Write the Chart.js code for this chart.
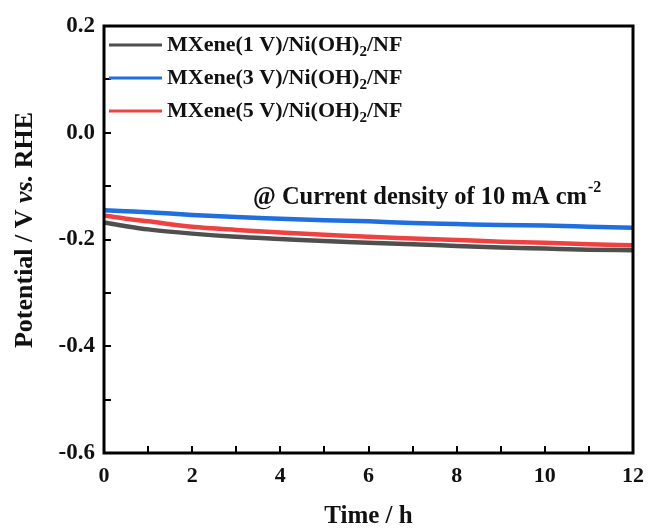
<!DOCTYPE html>
<html>
<head>
<meta charset="utf-8">
<script src="https://cdn.jsdelivr.net/npm/chart.js@4/dist/chart.umd.min.js"></script>
<style>
html,body{margin:0;padding:0;background:#fff;}
#wrap{width:649px;height:530px;}
</style>
</head>
<body>
<div id="wrap"><canvas id="c" width="649" height="530"></canvas></div>
<script>
// ---- data ----
const timeH = [0, 0.5, 1, 2, 3, 4, 5, 6, 7, 8, 9, 10, 11, 12];
const mx1V = [-0.168, -0.175, -0.181, -0.189, -0.195, -0.199, -0.203, -0.206, -0.209, -0.212, -0.215, -0.217, -0.219, -0.220];
const mx3V = [-0.145, -0.147, -0.149, -0.154, -0.158, -0.161, -0.164, -0.166, -0.169, -0.171, -0.173, -0.174, -0.176, -0.178];
const mx5V = [-0.155, -0.161, -0.166, -0.176, -0.182, -0.187, -0.191, -0.195, -0.198, -0.201, -0.204, -0.206, -0.209, -0.211];
const seriesNames = ['MXene(1 V)/Ni(OH)', 'MXene(3 V)/Ni(OH)', 'MXene(5 V)/Ni(OH)'];
const seriesColors = ['#4f4f4f', '#1f6fde', '#f04141'];
const xTicks = [0, 2, 4, 6, 8, 10, 12];
const yTicks = [0.2, 0.0, -0.2, -0.4, -0.6];

const FONT = '"Liberation Serif","Times New Roman",serif';

function pts(ys){ return timeH.map((t,i)=>({x:t,y:ys[i]})); }

const decor = {
  id: 'decor',
  afterDraw(chart){
    const ctx = chart.ctx, a = chart.chartArea;
    const xs = chart.scales.x, ys = chart.scales.y;
    ctx.save();
    // inward ticks
    ctx.strokeStyle = '#000';
    ctx.lineWidth = 2;
    ctx.beginPath();
    for (let t = 1; t < 12; t++) {
      const px = Math.round(xs.getPixelForValue(t));
      ctx.moveTo(px, a.bottom); ctx.lineTo(px, a.bottom - 7);
    }
    for (let k = -5; k <= 1; k++) {
      const py = Math.round(ys.getPixelForValue(k / 10));
      ctx.moveTo(a.left, py); ctx.lineTo(a.left + 7, py);
    }
    ctx.stroke();
    // frame
    ctx.lineWidth = 3;
    ctx.strokeRect(a.left, a.top, a.right - a.left, a.bottom - a.top);

    // legend
    const lx0 = a.left + 5, lx1 = a.left + 58, tx = a.left + 63;
    const ly = [45, 78, 111];
    ctx.textBaseline = 'middle';
    ctx.textAlign = 'left';
    for (let i = 0; i < 3; i++) {
      ctx.strokeStyle = seriesColors[i];
      ctx.lineWidth = 3;
      ctx.beginPath(); ctx.moveTo(lx0, ly[i]); ctx.lineTo(lx1, ly[i]); ctx.stroke();
      ctx.fillStyle = '#111';
      ctx.font = 'bold 22px ' + FONT;
      let x = tx;
      ctx.fillText(seriesNames[i], x, ly[i]);
      x += ctx.measureText(seriesNames[i]).width;
      ctx.font = 'bold 15px ' + FONT;
      ctx.fillText('2', x, ly[i] + 7);
      x += ctx.measureText('2').width;
      ctx.font = 'bold 22px ' + FONT;
      ctx.fillText('/NF', x, ly[i]);
    }

    // annotation
    ctx.font = 'bold 24.5px ' + FONT;
    ctx.fillStyle = '#111';
    const ann = '@ Current density of 10 mA cm';
    ctx.fillText(ann, 253, 198);
    const aw = ctx.measureText(ann).width;
    ctx.font = 'bold 16px ' + FONT;
    ctx.fillText('-2', 253 + aw + 1, 188);

    // x title
    ctx.font = 'bold 25px ' + FONT;
    ctx.textAlign = 'center';
    ctx.fillText('Time / h', (a.left + a.right) / 2, 517);

    // y title with italic "vs."
    ctx.translate(25, 230);
    ctx.rotate(-Math.PI / 2);
    const parts = [
      ['Potential / V ', 'bold 26px ' + FONT],
      ['vs.', 'italic bold 26px ' + FONT],
      [' RHE', 'bold 26px ' + FONT]
    ];
    let total = 0;
    for (const p of parts) { ctx.font = p[1]; total += ctx.measureText(p[0]).width; }
    let x = -total / 2;
    ctx.textAlign = 'left';
    for (const p of parts) { ctx.font = p[1]; ctx.fillText(p[0], x, 0); x += ctx.measureText(p[0]).width; }
    ctx.restore();
  }
};

new Chart(document.getElementById('c'), {
  type: 'line',
  data: {
    datasets: [
      { label: seriesNames[0], data: pts(mx1V), borderColor: seriesColors[0], borderWidth: 4.5, pointRadius: 0, cubicInterpolationMode: 'monotone', fill: false },
      { label: seriesNames[1], data: pts(mx3V), borderColor: seriesColors[1], borderWidth: 4.5, pointRadius: 0, cubicInterpolationMode: 'monotone', fill: false },
      { label: seriesNames[2], data: pts(mx5V), borderColor: seriesColors[2], borderWidth: 4.5, pointRadius: 0, cubicInterpolationMode: 'monotone', fill: false }
    ]
  },
  options: {
    responsive: false,
    animation: false,
    devicePixelRatio: 1,
    layout: { padding: { top: 26, right: 16, left: 0, bottom: 0 } },
    plugins: { legend: { display: false }, tooltip: { enabled: false } },
    scales: {
      x: {
        type: 'linear', min: 0, max: 12,
        afterFit(s){ s.height = 77; s.paddingLeft = 0; s.paddingRight = 0; },
        afterBuildTicks(s){ s.ticks = xTicks.map(v => ({ value: v })); },
        ticks: { color: '#111', font: { family: FONT, size: 22, weight: 'bold' }, padding: 10, maxRotation: 0, autoSkip: false },
        grid: { display: false, drawTicks: false },
        border: { display: false }
      },
      y: {
        type: 'linear', min: -0.6, max: 0.2,
        afterFit(s){ s.width = 104; s.paddingTop = 0; s.paddingBottom = 0; },
        afterBuildTicks(s){ s.ticks = yTicks.map(v => ({ value: v })); },
        ticks: { color: '#111', font: { family: FONT, size: 23, weight: 'bold' }, padding: 9,
          callback: v => (Math.abs(v) < 1e-9 ? 0 : v).toFixed(1) },
        grid: { display: false, drawTicks: false },
        border: { display: false }
      }
    }
  },
  plugins: [decor]
});
</script>
</body>
</html>
